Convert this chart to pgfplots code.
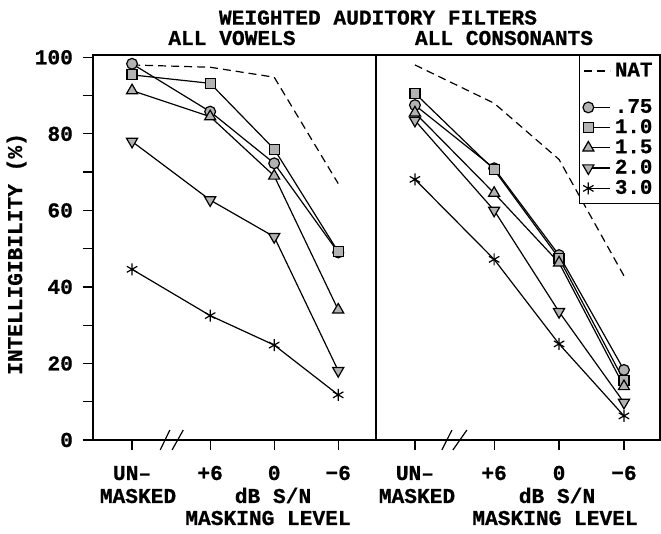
\documentclass[border=0pt]{standalone}
\usepackage{fontspec}
\setmainfont{Liberation Mono}[BoldFeatures={FakeBold=0.7}]
\usepackage{pgfplots}
\pgfplotsset{compat=1.18}
\begin{document}
\begin{tikzpicture}[font=\fontsize{10.6}{12}\selectfont\bfseries]
\pgfplotsset{
  panel/.style={
    scale only axis, height=192.5pt,
    ymin=0, ymax=100.6,
    xtick={0,1.22,2.22,3.22},
    xticklabels={UN–,+6,0,−6},
    xtick pos=bottom,
    tick align=outside,
    major tick length=5pt,
    minor tick length=5pt,
    axis line style={line width=0.7pt},
    every tick/.style={black, line width=0.6pt},
    xticklabel style={anchor=base, yshift=-15pt},
    yticklabel style={xshift=-1.5pt},
    clip=false,
    /pgf/number format/assume math mode=true,
    every axis plot/.append style={line width=0.6pt, black},
  },
  nat/.style={black, line width=0.6pt, dash pattern=on 4pt off 2.5pt,
    legend image code/.code={\draw (0pt,0pt) -- (13pt,0pt);}},
  mleg/.style={legend image code/.code={\draw[mark repeat=2,mark phase=1] plot coordinates {(2pt,0pt) (13pt,0pt)};}},
  m75/.style={mleg, mark=*, mark size=2.7pt, mark options={fill=gray!60, draw=black, solid}},
  m10/.style={mleg, mark=square*, mark size=2.5pt, mark options={fill=gray!60, draw=black, solid}},
  m15/.style={mleg, mark=triangle*, mark size=3.2pt, mark options={fill=gray!60, draw=black, solid}},
  m20/.style={mleg, mark=triangle*, mark size=3.2pt, mark options={rotate=180, fill=gray!60, draw=black, solid}},
  m30/.style={mleg, mark=asterisk, mark size=3pt, mark options={draw=black, solid}},
}
% ---------- left panel: all vowels ----------
\begin{axis}[panel, name=left, at={(0pt,0pt)}, anchor=south west,
  width=141.5pt, xmin=-0.61, xmax=3.81,
  ytick={0,20,...,100}, minor ytick={10,30,...,90}, ytick pos=left]
\addplot[nat] coordinates {(0,98) (1.22,97.4) (2.22,94.8) (3.22,67)};
\addplot[m75] coordinates {(0,98.3) (1.22,85.8) (2.22,72.3) (3.22,49)};
\addplot[m10] coordinates {(0,95.4) (1.22,93.2) (2.22,76) (3.22,49.2)};
\addplot[m15] coordinates {(0,91.3) (1.22,84.5) (2.22,69) (3.22,34)};
\addplot[m20] coordinates {(0,78) (1.22,62.7) (2.22,53.1) (3.22,18.1)};
\addplot[m30] coordinates {(0,44.6) (1.22,32.5) (2.22,24.8) (3.22,11.8)};
\draw[line width=0.6pt] (axis cs:0.44,-2.6) -- (axis cs:0.59,2.6);
\draw[line width=0.6pt] (axis cs:0.625,-2.6) -- (axis cs:0.80,2.6);
\end{axis}
% ---------- right panel: all consonants ----------
\begin{axis}[panel, name=right, at={(141.5pt,0pt)}, anchor=south west,
  width=142pt, xmin=-0.60, xmax=3.775,
  ytick=\empty,
  legend style={at={(rel axis cs:1,1)}, anchor=north east, draw=black,
    line width=0.6pt, fill=white, font=\fontsize{10.4}{11}\selectfont\bfseries,
    inner xsep=1.5pt, inner ysep=1.5pt, row sep=-2.3pt},
  legend cell align=left]
\addplot[nat] coordinates {(0,98) (1.22,88) (2.22,73.3) (3.22,42.9)};
\addlegendentry{NAT}
\addlegendimage{empty legend}
\addlegendentry{\rule{0pt}{5pt}}
\addplot[m75] coordinates {(0,87.5) (1.22,71) (2.22,48.3) (3.22,18.3)};
\addlegendentry{.75}
\addplot[m10] coordinates {(0,90.6) (1.22,70.6) (2.22,47.5) (3.22,15.5)};
\addlegendentry{1.0}
\addplot[m15] coordinates {(0,85.5) (1.22,64.5) (2.22,46.3) (3.22,14)};
\addlegendentry{1.5}
\addplot[m20] coordinates {(0,83.5) (1.22,60) (2.22,33.5) (3.22,9.8)};
\addlegendentry{2.0}
\addplot[m30] coordinates {(0,68.1) (1.22,47.2) (2.22,25.1) (3.22,6.3)};
\addlegendentry{3.0}
\draw[line width=0.6pt] (axis cs:0.415,-2.6) -- (axis cs:0.57,2.6);
\draw[line width=0.6pt] (axis cs:0.585,-2.6) -- (axis cs:0.80,2.6);
\end{axis}
% ---------- texts ----------
\node at (142.5pt,211.2pt) {WEIGHTED AUDITORY FILTERS};
\node at (69.5pt,201pt) {ALL VOWELS};
\node at (205.5pt,201pt) {ALL CONSONANTS};
\node[rotate=90] at (-38.2pt,93pt) {INTELLIGIBILITY (\%)};
\node[anchor=base] at (22.5pt,-31.5pt) {MASKED};
\node[anchor=base] at (90pt,-31.5pt) {dB S/N};
\node[anchor=base] at (87.5pt,-42.5pt) {MASKING LEVEL};
\node[anchor=base] at (162pt,-31.5pt) {MASKED};
\node[anchor=base] at (232pt,-31.5pt) {dB S/N};
\node[anchor=base] at (231pt,-42.5pt) {MASKING LEVEL};
\pgfresetboundingbox
\path (-46.5pt,-47pt) rectangle (284pt,220pt);
\end{tikzpicture}
\end{document}
